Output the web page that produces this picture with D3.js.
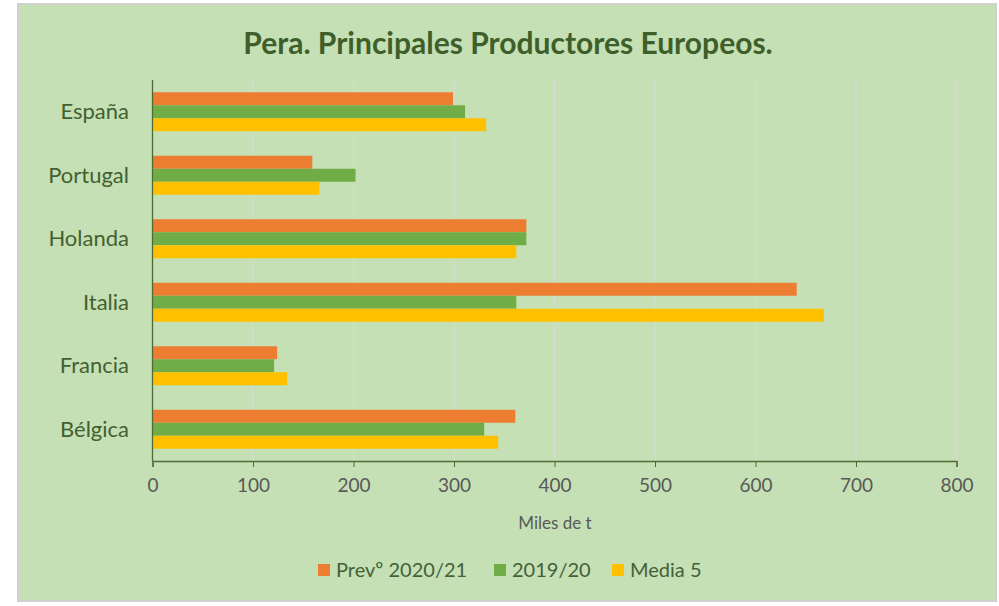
<!DOCTYPE html>
<html><head><meta charset="utf-8">
<script src="https://cdn.jsdelivr.net/npm/d3@7"></script>
<style>body{margin:0;background:#fff;} svg{display:block;}</style>
</head><body>
<svg id="c" width="999" height="606"></svg>
<script>
const categories = ["España","Portugal","Holanda","Italia","Francia","Bélgica"];
const seriesNames = ["Prevº 2020/21","2019/20","Media 5"];
const prev2021 = [299, 159, 372, 641, 124, 361];
const y1920 = [311, 202, 372, 362, 121, 330];
const media5 = [332, 166, 362, 668, 134, 344];
const tickValues = [0,100,200,300,400,500,600,700,800];
const colors = ["#ED7D31","#70AD47","#FFC000"];
const seriesVals = [prev2021, y1920, media5];

const svg = d3.select("#c");
const font = "Lato, 'Open Sans', sans-serif";
svg.append("rect").attr("x",18).attr("y",4).attr("width",978).attr("height",597)
  .attr("fill","#C5E0B4").attr("stroke","#D0D0D0").attr("stroke-width",2);

svg.append("text").attr("x",508).attr("y",54).attr("text-anchor","middle")
  .attr("font-family",font).attr("font-weight","bold").attr("font-size",30)
  .attr("fill","#3E5F2A").text("Pera. Principales Productores Europeos.");

const x = d3.scaleLinear().domain([0,800]).range([152.5,956.5]);
const y = d3.scaleBand().domain(categories).range([80,461]);
const sub = d3.scaleBand().domain(d3.range(3)).range([0,39]);

// gridlines
svg.append("g").selectAll("line").data(tickValues.slice(1)).join("line")
  .attr("x1",d=>x(d)).attr("x2",d=>x(d)).attr("y1",80).attr("y2",461)
  .attr("stroke","#D9D9D9").attr("stroke-width",1);

// bars
categories.forEach((c,i)=>{
  seriesVals.forEach((vals,s)=>{
    svg.append("rect")
      .attr("x",x(0)).attr("y",y(c)+(y.bandwidth()-39)/2+sub(s))
      .attr("width",x(vals[i])-x(0)).attr("height",sub.bandwidth())
      .attr("fill",colors[s]);
  });
});

// y axis line
svg.append("line").attr("x1",x(0)).attr("x2",x(0)).attr("y1",80).attr("y2",461)
  .attr("stroke","#4E6B35").attr("stroke-width",1.3);
// category labels
svg.append("g").selectAll("text").data(categories).join("text")
  .attr("x",129).attr("y",d=>y(d)+y.bandwidth()/2).attr("dy","0.35em")
  .attr("text-anchor","end").attr("font-family",font).attr("font-size",22)
  .attr("fill","#426030").text(d=>d);

// x axis
const xa = svg.append("g").attr("transform","translate(0,461)")
  .call(d3.axisBottom(x).tickValues(tickValues).tickSize(6).tickPadding(12));
xa.select(".domain").attr("stroke","#4E6B35").attr("stroke-width",1.3);
xa.selectAll(".tick line").attr("stroke","#4E6B35");
xa.selectAll("text").attr("font-family",font).attr("font-size",19).attr("fill","#595959");

svg.append("text").attr("x",555).attr("y",529).attr("text-anchor","middle")
  .attr("font-family",font).attr("font-size",17).attr("fill","#595959").text("Miles de t");

// legend
const lg = [{x:318},{x:494},{x:612}];
seriesNames.forEach((n,i)=>{
  const g = svg.append("g").attr("transform",`translate(${lg[i].x},570)`);
  g.append("rect").attr("x",0).attr("y",-6).attr("width",12).attr("height",12).attr("fill",colors[i]);
  g.append("text").attr("x",18).attr("y",0).attr("dy","0.35em").attr("font-family",font)
    .attr("font-size",20).attr("fill","#44603A").text(n);
});
</script>
</body></html>
